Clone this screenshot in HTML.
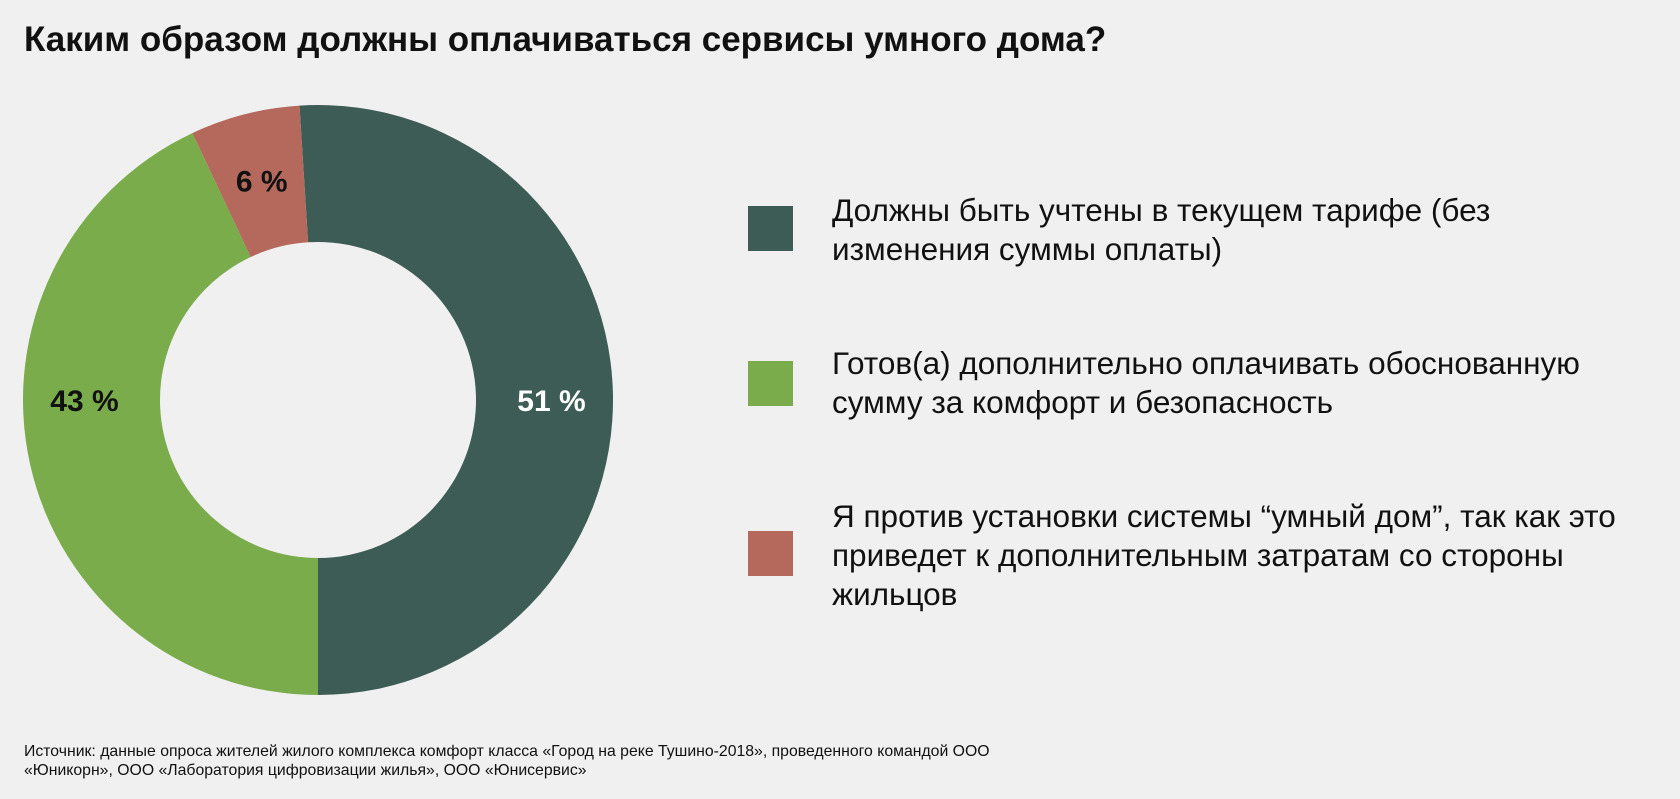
<!DOCTYPE html>
<html><head><meta charset="utf-8"><style>
body{margin:0;width:1680px;height:799px;background:#f0f0f0;font-family:"Liberation Sans","Noto Sans CJK SC",sans-serif;overflow:hidden;position:relative}
.t{position:absolute;left:24px;top:20px;font-size:35px;font-weight:bold;color:#111;white-space:nowrap}
.lg{position:absolute;left:748px;width:45px;height:45px}
.lt{position:absolute;left:832px;font-size:31.5px;line-height:39px;color:#111;white-space:nowrap}
.src{position:absolute;left:24px;top:742px;font-size:15.8px;line-height:19px;color:#111;white-space:nowrap}
</style></head><body>
<div class="t">Каким образом должны оплачиваться сервисы умного дома?</div>
<svg id="c" width="1680" height="799" style="position:absolute;left:0;top:0"></svg>
<div class="lg" style="top:206px;background:#3d5c55"></div>
<div class="lt" style="top:191px">Должны быть учтены в текущем тарифе (без<br>изменения суммы оплаты)</div>
<div class="lg" style="top:361px;background:#7aac4b"></div>
<div class="lt" style="top:344px">Готов(а) дополнительно оплачивать обоснованную<br>сумму за комфорт и безопасность</div>
<div class="lg" style="top:531px;background:#b5695c"></div>
<div class="lt" style="top:497px">Я против установки системы “умный дом”, так как это<br>приведет к дополнительным затратам со стороны<br>жильцов</div>
<div class="src">Источник: данные опроса жителей жилого комплекса комфорт класса «Город на реке Тушино-2018», проведенного командой ООО<br>«Юникорн», ООО «Лаборатория цифровизации жилья», ООО «Юнисервис»</div>
<script>
const categories=["tariff","pay-extra","against"];
const values=[51,43,6];
const labels=["51 %","43 %","6 %"];
const colors=["#3d5c55","#7aac4b","#b5695c"];
const labelColors=["#ffffff","#111111","#111111"];
const svg=document.getElementById('c');
const cx=318,cy=400,R=295,r=158,start=-3.6;
const total=values.reduce((a,b)=>a+b,0);
function pt(a,rad){const t=(a-90)*Math.PI/180;return [cx+rad*Math.cos(t),cy+rad*Math.sin(t)];}
let a0=start;
values.forEach((v,i)=>{
  const a1=a0+v/total*360;const lg=(a1-a0)>180?1:0;
  const p1=pt(a0,R),p2=pt(a1,R),p3=pt(a1,r),p4=pt(a0,r);
  const p=document.createElementNS('http://www.w3.org/2000/svg','path');
  p.setAttribute('d',`M${p1}A${R},${R} 0 ${lg} 1 ${p2}L${p3}A${r},${r} 0 ${lg} 0 ${p4}Z`);
  p.setAttribute('fill',colors[i]);
  
  
  svg.appendChild(p);
  let m=(a0+a1)/2;
  if(v/total>0.25){ m = (((m%360)+360)%360)<180 ? 90 : 270; }
  const lp=pt(m,(R+r)/2+ (v/total>0.25?7:0));
  const t=document.createElementNS('http://www.w3.org/2000/svg','text');
  t.setAttribute('x',lp[0]);t.setAttribute('y',lp[1]+11);
  t.setAttribute('text-anchor','middle');t.setAttribute('font-size','30');t.setAttribute('font-weight','bold');
  t.setAttribute('fill',labelColors[i]);t.setAttribute('font-family','Liberation Sans, sans-serif');
  t.textContent=labels[i];
  
  
  svg.appendChild(t);
  a0=a1;
});
</script>
</body></html>
